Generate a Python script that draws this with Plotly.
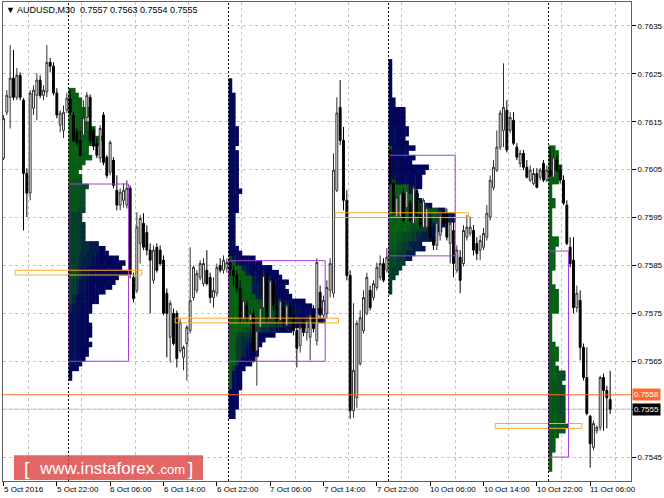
import numpy as np
import plotly.graph_objects as go

# ---------------- data (AUDUSD M30, bar 0 = 5 Oct 2016 14:00) ----------------
opens = [
 0.76074,0.76170,0.76201,0.76241,0.76201,0.76247,0.76195,0.76042,0.76001,0.76178,
 0.76205,0.76237,0.76205,0.76212,0.76274,0.76266,0.76210,0.76143,0.76132,0.76174,
 0.76199,0.76164,0.76128,0.76111,0.76122,0.76159,0.76201,0.76132,0.76105,0.76074,
 0.76164,0.76076,0.76045,0.76070,0.76007,0.75976,0.75986,0.75976,0.76011,0.75825,
 0.75798,0.75896,0.75938,0.75919,0.75882,0.75819,0.75888,0.75882,0.75861,0.75792,
 0.75700,0.75750,0.75750,0.75672,0.75658,0.75687,0.75714,0.75783,0.75798,0.75825,
 0.75812,0.75840,0.75825,0.75783,0.75792,0.75850,0.75840,0.75844,0.75856,0.75840,
 0.75829,0.75802,0.75739,0.75767,0.75735,0.75750,0.75672,0.75721,0.75762,0.75825,
 0.75739,0.75815,0.75767,0.75735,0.75760,0.75725,0.75762,0.75746,0.75714,0.75683,
 0.75731,0.75710,0.75700,0.75746,0.75693,0.75794,0.75746,0.75750,0.75798,0.75792,
 0.76007,0.76180,0.76111,0.75986,0.75829,0.75547,0.75574,0.75645,0.75714,0.75750,
 0.75798,0.75783,0.75804,0.75825,0.75854,0.75840,0.76091,0.76021,0.75951,0.75951,
 0.76001,0.75971,0.75980,0.75938,0.76007,0.75955,0.75930,0.75930,0.75951,0.75909,
 0.75892,0.75913,0.75959,0.75959,0.75896,0.75923,0.75840,0.75867,0.75854,0.75909,
 0.75917,0.75923,0.75896,0.75882,0.75888,0.75909,0.75951,0.76013,0.76049,0.76097,
 0.76132,0.76174,0.76132,0.76153,0.76097,0.76063,0.76084,0.76055,0.76028,0.76021,
 0.76042,0.76034,0.76063,0.76028,0.76049,0.76034,0.76070,0.76049,0.76028,0.75976,
 0.75888,0.75861,0.75762,0.75777,0.75679,0.75616,0.75535,0.75470,0.75505,0.75512,
 0.75616,0.75589,0.75570]
highs = [
 0.76164,0.76216,0.76310,0.76300,0.76262,0.76253,0.76199,0.76053,0.76216,0.76226,
 0.76251,0.76247,0.76226,0.76310,0.76283,0.76274,0.76220,0.76174,0.76184,0.76210,
 0.76216,0.76170,0.76136,0.76132,0.76195,0.76212,0.76207,0.76136,0.76116,0.76143,
 0.76170,0.76080,0.76111,0.76076,0.76038,0.76011,0.76021,0.76028,0.76017,0.75835,
 0.75961,0.75955,0.75959,0.75934,0.75896,0.75892,0.75896,0.75892,0.75871,0.75802,
 0.75777,0.75760,0.75756,0.75739,0.75683,0.75725,0.75888,0.75850,0.75840,0.75861,
 0.75865,0.75882,0.75835,0.75825,0.75854,0.75865,0.75871,0.75865,0.75865,0.75850,
 0.75840,0.75819,0.75798,0.75777,0.75756,0.75760,0.75735,0.75777,0.75840,0.75835,
 0.75829,0.75823,0.75787,0.75783,0.75771,0.75777,0.75771,0.75767,0.75725,0.75731,
 0.75739,0.75746,0.75756,0.75767,0.75865,0.75808,0.75787,0.75819,0.75865,0.76084,
 0.76201,0.76237,0.76139,0.76007,0.75840,0.75771,0.75735,0.75756,0.75798,0.75835,
 0.75808,0.75819,0.75856,0.75871,0.75865,0.75886,0.76095,0.76028,0.75996,0.76007,
 0.76011,0.76011,0.75986,0.76017,0.76013,0.75976,0.75990,0.75976,0.75961,0.75934,
 0.75955,0.75965,0.75965,0.75969,0.75955,0.75940,0.75892,0.75882,0.75934,0.75955,
 0.75952,0.75934,0.75909,0.75913,0.75928,0.75976,0.76038,0.76070,0.76132,0.76174,
 0.76272,0.76195,0.76170,0.76170,0.76105,0.76091,0.76091,0.76070,0.76059,0.76053,
 0.76053,0.76053,0.76070,0.76059,0.76097,0.76091,0.76080,0.76059,0.76038,0.75986,
 0.75909,0.75909,0.75808,0.75798,0.75687,0.75679,0.75538,0.75526,0.75516,0.75620,
 0.75624,0.75599,0.75630]
lows = [
 0.76070,0.76164,0.76136,0.76195,0.76195,0.76195,0.75923,0.75951,0.75986,0.76164,
 0.76153,0.76199,0.76195,0.76201,0.76253,0.76205,0.76157,0.76128,0.76116,0.76168,
 0.76164,0.76107,0.76101,0.76076,0.76118,0.76147,0.76105,0.76091,0.76074,0.76065,
 0.76059,0.76032,0.76038,0.76011,0.75965,0.75965,0.75971,0.75969,0.75823,0.75773,
 0.75792,0.75854,0.75882,0.75871,0.75750,0.75812,0.75835,0.75850,0.75746,0.75658,
 0.75647,0.75683,0.75637,0.75668,0.75631,0.75610,0.75708,0.75777,0.75792,0.75819,
 0.75806,0.75808,0.75771,0.75762,0.75785,0.75835,0.75833,0.75835,0.75829,0.75808,
 0.75794,0.75729,0.75725,0.75731,0.75718,0.75647,0.75599,0.75710,0.75756,0.75731,
 0.75729,0.75756,0.75725,0.75721,0.75718,0.75714,0.75735,0.75704,0.75637,0.75668,
 0.75702,0.75693,0.75652,0.75710,0.75683,0.75739,0.75731,0.75739,0.75783,0.75783,
 0.76003,0.76101,0.75965,0.75819,0.75530,0.75532,0.75553,0.75641,0.75708,0.75746,
 0.75756,0.75777,0.75798,0.75819,0.75815,0.75835,0.76017,0.75955,0.75944,0.75944,
 0.75940,0.75965,0.75940,0.75934,0.75948,0.75928,0.75923,0.75923,0.75902,0.75882,
 0.75882,0.75902,0.75934,0.75902,0.75854,0.75825,0.75835,0.75792,0.75848,0.75902,
 0.75911,0.75871,0.75861,0.75861,0.75882,0.75902,0.75944,0.76007,0.76045,0.76091,
 0.76097,0.76086,0.76126,0.76101,0.76070,0.76055,0.76049,0.76032,0.76024,0.76017,
 0.76011,0.76028,0.76024,0.76024,0.76034,0.76028,0.76045,0.76021,0.75976,0.75892,
 0.75846,0.75750,0.75752,0.75652,0.75610,0.75537,0.75428,0.75464,0.75499,0.75505,
 0.75505,0.75510,0.75540]
closes = [
 0.76157,0.76205,0.76241,0.76201,0.76247,0.76201,0.76042,0.76001,0.76210,0.76216,
 0.76237,0.76205,0.76216,0.76274,0.76266,0.76210,0.76164,0.76168,0.76170,0.76199,
 0.76170,0.76111,0.76107,0.76080,0.76159,0.76205,0.76111,0.76099,0.76080,0.76136,
 0.76065,0.76038,0.76107,0.76017,0.75976,0.76003,0.76007,0.76011,0.75831,0.75781,
 0.75930,0.75948,0.75888,0.75882,0.75861,0.75882,0.75840,0.75854,0.75750,0.75750,
 0.75771,0.75687,0.75656,0.75731,0.75679,0.75721,0.75777,0.75846,0.75833,0.75854,
 0.75854,0.75812,0.75783,0.75798,0.75846,0.75840,0.75861,0.75856,0.75840,0.75829,
 0.75802,0.75739,0.75777,0.75739,0.75750,0.75672,0.75714,0.75762,0.75829,0.75739,
 0.75819,0.75767,0.75735,0.75777,0.75729,0.75767,0.75746,0.75714,0.75677,0.75721,
 0.75710,0.75735,0.75746,0.75718,0.75856,0.75746,0.75777,0.75804,0.75854,0.76049,
 0.76168,0.76111,0.75986,0.75829,0.75547,0.75631,0.75729,0.75741,0.75783,0.75825,
 0.75762,0.75812,0.75846,0.75854,0.75819,0.75867,0.76021,0.75959,0.75992,0.76001,
 0.75944,0.76007,0.75944,0.76013,0.75955,0.75934,0.75986,0.75971,0.75909,0.75892,
 0.75940,0.75955,0.75938,0.75909,0.75938,0.75854,0.75882,0.75819,0.75923,0.75930,
 0.75930,0.75882,0.75875,0.75902,0.75917,0.75959,0.76028,0.76055,0.76097,0.76168,
 0.76180,0.76091,0.76159,0.76105,0.76076,0.76084,0.76055,0.76034,0.76049,0.76042,
 0.76013,0.76049,0.76028,0.76049,0.76038,0.76076,0.76049,0.76028,0.75980,0.75896,
 0.75854,0.75762,0.75792,0.75679,0.75616,0.75541,0.75478,0.75520,0.75512,0.75616,
 0.75589,0.75574,0.75550]

# session (day) start bars: 6 Oct, 7 Oct, 10 Oct, 11 Oct 00:00
session_starts = [20, 68, 116, 164]
bars_per_session = 48

tick_labels = ["5 Oct 2016", "5 Oct 22:00", "6 Oct 06:00", "6 Oct 14:00", "6 Oct 22:00",
               "7 Oct 06:00", "7 Oct 14:00", "7 Oct 22:00", "10 Oct 06:00", "10 Oct 14:00",
               "10 Oct 22:00", "11 Oct 06:00"]
tick_bars = [0, 16, 32, 48, 64, 80, 96, 112, 128, 144, 160, 176]
price_ticks = [0.7545, 0.7555, 0.7565, 0.7575, 0.7585, 0.7595, 0.7605, 0.7615, 0.7625, 0.7635]
ask_price = 0.7558
bid_price = 0.7555
header = "AUDUSD,M30  0.7557 0.7563 0.7554 0.7555"

# ---------------- market profile (TPO, one block per M30 bar) ----------------
row = 0.0001
green = np.array([8, 96, 18])
navy = np.array([2, 6, 90])
levels = 16
n = len(closes)


def shade(t):
    u = min(max((t - 0.2) / 0.55, 0.0), 1.0)
    u = u * u * (3 - 2 * u)
    c = (green * (1 - u) + navy * u).astype(int)
    return f"rgb({c[0]},{c[1]},{c[2]})"


pb_y, pb_base, pb_len, pb_col = [], [], [], []
shapes = []
for s in session_starts:
    e = min(s + bars_per_session, n)
    rows = {}
    for i in range(s, e):
        p = i - s
        r0 = int(np.floor(lows[i] / row + 1e-6))
        r1 = int(np.floor(highs[i] / row + 1e-6))
        for r in range(r0, r1 + 1):
            rows.setdefault(r, []).append(p)
    x0 = s - 0.5
    for r, plist in rows.items():
        runs = []
        for k, p in enumerate(plist):
            lv = int(round(p / (bars_per_session - 1) * levels))
            if runs and runs[-1][0] == lv:
                runs[-1][2] += 1
            else:
                runs.append([lv, k, 1])
        for lv, k, ln in runs:
            pb_y.append((r + 0.5) * row)
            pb_base.append(x0 + k)
            pb_len.append(ln + 0.12)
            pb_col.append(shade(lv / levels))
    keys = sorted(rows)
    counts = {r: len(rows[r]) for r in keys}
    mid = (keys[0] + keys[-1]) / 2
    poc = max(keys, key=lambda r: (counts[r], -abs(r - mid)))
    total = sum(counts.values())
    lo = hi = poc
    acc = counts[poc]
    while acc < 0.7 * total:
        up = counts.get(hi + 1, 0) + counts.get(hi + 2, 0)
        dn = counts.get(lo - 1, 0) + counts.get(lo - 2, 0)
        if up == 0 and dn == 0:
            break
        if up >= dn:
            for _ in range(2):
                if hi + 1 <= keys[-1]:
                    hi += 1; acc += counts.get(hi, 0)
        else:
            for _ in range(2):
                if lo - 1 >= keys[0]:
                    lo -= 1; acc += counts.get(lo, 0)
    maxw = max(counts.values())
    shapes.append(dict(type="rect", xref="x", yref="y", x0=x0, x1=x0 + maxw,
                       y0=lo * row, y1=(hi + 1) * row,
                       line=dict(color="#a53fd8", width=1), fillcolor="rgba(0,0,0,0)"))
    shapes.append(dict(type="rect", xref="x", yref="y", x0=x0 - 16, x1=x0 + counts[poc] + 4,
                       y0=poc * row, y1=(poc + 1) * row,
                       line=dict(color="#ffaa22", width=1), fillcolor="rgba(0,0,0,0)"))
    shapes.append(dict(type="line", xref="x", yref="paper", x0=x0, x1=x0, y0=0, y1=1,
                       line=dict(color="#000000", width=1, dash="2px,2px")))

fig = go.Figure()
fig.add_trace(go.Bar(y=pb_y, x=pb_len, base=pb_base, orientation="h",
                     width=row * 1.15, marker=dict(color=pb_col, line=dict(width=0)),
                     showlegend=False, hoverinfo="skip"))
fig.add_trace(go.Candlestick(x=list(range(n)), open=opens, high=highs, low=lows, close=closes,
                             increasing=dict(line=dict(color="#303030", width=1), fillcolor="#ffffff"),
                             decreasing=dict(line=dict(color="#000000", width=1), fillcolor="#000000"),
                             whiskerwidth=0, showlegend=False))

# price lines
shapes.append(dict(type="line", xref="paper", yref="y", x0=0, x1=1, y0=bid_price, y1=bid_price,
                   line=dict(color="#c8c8c8", width=1), layer="below"))
shapes.append(dict(type="line", xref="paper", yref="y", x0=0, x1=1, y0=ask_price, y1=ask_price,
                   line=dict(color="#ff6a2a", width=1)))
# watermark box
shapes.append(dict(type="rect", xref="paper", yref="paper", x0=0.0175, x1=0.3185, y0=0.002, y1=0.054,
                   line=dict(width=0), fillcolor="rgba(222,70,70,0.82)"))

lab_font = dict(family="Liberation Sans", size=8, color="#000000")
annotations = []
for b, lab in zip(tick_bars, tick_labels):
    annotations.append(dict(x=b, y=0, xref="x", yref="paper", text=lab, showarrow=False,
                            xanchor="left", yanchor="top", yshift=-2, xshift=-2, font=lab_font))
annotations.append(dict(x=0, y=1, xref="paper", yref="paper", xanchor="left", yanchor="top",
                        xshift=1, yshift=-1, showarrow=False, text="▼ " + header,
                        font=dict(family="Liberation Sans", size=9, color="#000000")))
annotations.append(dict(x=1, y=ask_price, xref="paper", yref="y", xanchor="left", yanchor="middle",
                        xshift=1, showarrow=False, text=f"{ask_price:.4f}", bgcolor="#ff6a2a",
                        borderpad=1, font=dict(family="Liberation Sans", size=8, color="#ffffff")))
annotations.append(dict(x=1, y=bid_price, xref="paper", yref="y", xanchor="left", yanchor="middle",
                        xshift=1, showarrow=False, text=f"{bid_price:.4f}", bgcolor="#000000",
                        borderpad=1, font=dict(family="Liberation Sans", size=8, color="#ffffff")))
wm_font = dict(family="Liberation Sans", color="#ffffff")
annotations += [
    dict(x=0.0382, y=0.027, xref="paper", yref="paper", showarrow=False, text="[",
         xanchor="center", yanchor="middle", font=dict(size=19, **wm_font)),
    dict(x=0.0541, y=0.027, xref="paper", yref="paper", showarrow=False, text="www.instaforex",
         xanchor="left", yanchor="middle", font=dict(size=17, **wm_font)),
    dict(x=0.2420, y=0.024, xref="paper", yref="paper", showarrow=False, text=".com",
         xanchor="left", yanchor="middle", font=dict(size=13, **wm_font)),
    dict(x=0.2978, y=0.027, xref="paper", yref="paper", showarrow=False, text="]",
         xanchor="center", yanchor="middle", font=dict(size=19, **wm_font)),
]

# the bid label box covers the 0.7555 tick label, as on the terminal
tick_text = ["" if abs(v - bid_price) < 1e-9 else f"{v:.4f}" for v in price_ticks]

fig.update_layout(
    width=664, height=498, margin=dict(l=3, r=33, t=2, b=17),
    paper_bgcolor="#ffffff", plot_bgcolor="#ffffff", boxgap=0.2,
    barmode="overlay", showlegend=False, shapes=shapes, annotations=annotations,
    xaxis=dict(range=[-0.15, 188.25], tickvals=tick_bars, showticklabels=False,
               ticks="outside", ticklen=4, tickcolor="#000000", showgrid=False,
               minor=dict(tickvals=[7.5 + 16 * k for k in range(12)], showgrid=True,
                          gridcolor="#c4c4c4", griddash="3px,3px", ticklen=0),
               showline=True, linecolor="#606060", linewidth=1, mirror=True,
               rangeslider=dict(visible=False), zeroline=False, fixedrange=True),
    yaxis=dict(range=[0.7540, 0.7640], side="right", tickvals=price_ticks,
               ticktext=tick_text, ticks="outside", ticklen=4,
               tickcolor="#000000", showgrid=True, gridcolor="#c4c4c4", griddash="3px,3px",
               showline=True, linecolor="#606060", linewidth=1, mirror=True, zeroline=False,
               tickfont=lab_font),
)
fig.write_html("out.html", config={"displayModeBar": False},
               post_script="document.body.style.margin='0px';document.body.style.padding='0px';")
